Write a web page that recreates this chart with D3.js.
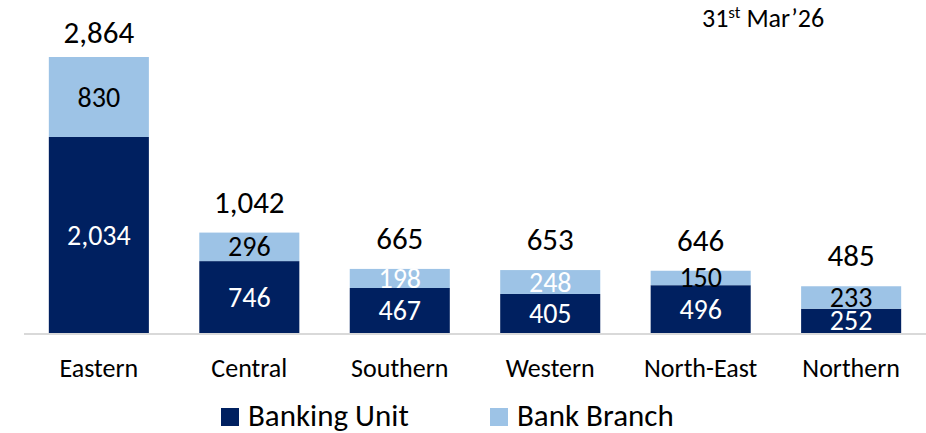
<!DOCTYPE html>
<html>
<head>
<meta charset="utf-8">
<script src="https://cdn.jsdelivr.net/npm/d3@7"></script>
<style>
  body { margin: 0; background: #fff; }
  text { font-family: Carlito, Calibri, "Open Sans", sans-serif; }
</style>
</head>
<body>
<div id="chart"></div>
<script>
// Données
const regions = ["Eastern", "Central", "Southern", "Western", "North-East", "Northern"];
const bankingUnit = [2034, 746, 467, 405, 496, 252];
const bankBranch = [830, 296, 198, 248, 150, 233];
const totals = [2864, 1042, 665, 653, 646, 485];
// regions where the branch label is written in white
const whiteBranchLabels = ["Southern", "Western"];

const width = 926,
  height = 433;
const baseY = 333;

const navy = "#002060",
  lightBlue = "#9dc3e6";

const svg = d3
  .select("#chart")
  .append("svg")
  .attr("width", width)
  .attr("height", height);

const x = d3.scaleBand().domain(regions).range([24, 926]).paddingInner(0.335).paddingOuter(0.165);
const y = d3.scaleLinear().domain([0, 2864]).range([baseY, 57]);

const fmt = d3.format(",");

// barres empilées
const rows = regions.map(function (r, i) {
  return { region: r, unit: bankingUnit[i], branch: bankBranch[i], total: totals[i] };
});

const g = svg.append("g");

g.selectAll(".unit")
  .data(rows)
  .enter()
  .append("rect")
  .attr("x", (d) => x(d.region))
  .attr("width", x.bandwidth())
  .attr("y", (d) => y(d.unit))
  .attr("height", (d) => y(0) - y(d.unit))
  .attr("fill", navy);

g.selectAll(".branch")
  .data(rows)
  .enter()
  .append("rect")
  .attr("x", (d) => x(d.region))
  .attr("width", x.bandwidth())
  .attr("y", (d) => y(d.unit + d.branch))
  .attr("height", (d) => y(d.unit) - y(d.unit + d.branch))
  .attr("fill", lightBlue);

// axe
svg
  .append("line")
  .attr("x1", 24)
  .attr("x2", 926)
  .attr("y1", baseY + 1)
  .attr("y2", baseY + 1)
  .attr("stroke", "#d9d9d9")
  .attr("stroke-width", 2);

// étiquettes
g.selectAll(".unitLbl")
  .data(rows)
  .enter()
  .append("text")
  .attr("x", (d) => x(d.region) + x.bandwidth() / 2)
  .attr("y", (d) => (y(0) + y(d.unit)) / 2)
  .attr("dy", "0.34em")
  .attr("text-anchor", "middle")
  .attr("font-size", 28)
  .attr("fill", "#fff")
  .text((d) => fmt(d.unit));

g.selectAll(".branchLbl")
  .data(rows)
  .enter()
  .append("text")
  .attr("x", (d) => x(d.region) + x.bandwidth() / 2)
  .attr("y", (d) => (y(d.unit) + y(d.unit + d.branch)) / 2)
  .attr("dy", "0.34em")
  .attr("text-anchor", "middle")
  .attr("font-size", 28)
  .attr("fill", (d) => (whiteBranchLabels.includes(d.region) ? "#fff" : "#000"))
  .text((d) => fmt(d.branch));

g.selectAll(".totalLbl")
  .data(rows)
  .enter()
  .append("text")
  .attr("x", (d) => x(d.region) + x.bandwidth() / 2)
  .attr("y", (d) => Math.max(y(d.total) - 20, 43))
  .attr("text-anchor", "middle")
  .attr("font-size", 31)
  .attr("fill", "#000")
  .text((d) => fmt(d.total));

g.selectAll(".cat")
  .data(regions)
  .enter()
  .append("text")
  .attr("x", (d) => x(d) + x.bandwidth() / 2)
  .attr("y", 377)
  .attr("text-anchor", "middle")
  .attr("font-size", 26)
  .attr("fill", "#000")
  .text((d) => d);

// légende
const legend = [
  { label: "Banking Unit", color: navy, x: 221 },
  { label: "Bank Branch", color: lightBlue, x: 490 },
];
const lg = svg.selectAll(".legend").data(legend).enter().append("g");
lg.append("rect")
  .attr("x", (d) => d.x)
  .attr("y", 408)
  .attr("width", 18)
  .attr("height", 18)
  .attr("fill", (d) => d.color);
lg.append("text")
  .attr("x", (d) => d.x + 27)
  .attr("y", 426)
  .attr("font-size", 31)
  .attr("fill", "#000")
  .text((d) => d.label);

// date
const dt = svg
  .append("text")
  .attr("x", 702)
  .attr("y", 27)
  .attr("font-size", 26)
  .attr("fill", "#000");
dt.append("tspan").text("31");
dt.append("tspan").attr("font-size", 17).attr("dy", -9).text("st");
dt.append("tspan").attr("dy", 9).text(" Mar\u201926");
</script>
</body>
</html>
